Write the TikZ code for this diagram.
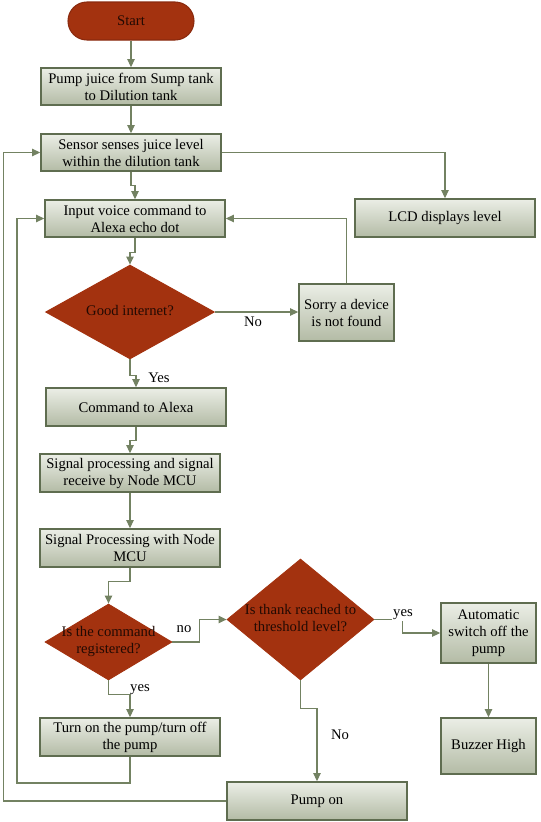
\documentclass[tikz,border=0pt]{standalone}
\usepackage{fontspec}
\setmainfont{Liberation Serif}
\usetikzlibrary{arrows.meta,shapes.geometric}
\definecolor{boxtop}{HTML}{EBEEE6}
\definecolor{boxbot}{HTML}{B3BBA5}
\definecolor{boxline}{HTML}{5F6D50}
\definecolor{conn}{HTML}{738262}
\definecolor{dred}{HTML}{A3320F}
\definecolor{dredline}{HTML}{8A2A0E}
\definecolor{dtext}{HTML}{220A03}
\tikzset{
  procbox/.style={draw=boxline, line width=1.2pt, top color=boxtop, bottom color=boxbot,
    inner sep=0pt, align=center, font=\fontsize{11}{12.75}\selectfont},
  decbox/.style={diamond, draw=dred, line width=0.6pt, fill=dred, inner sep=0pt,
    text=dtext, font=\fontsize{11}{12.75}\selectfont},
  termbox/.style={draw=dredline, line width=0.8pt, fill=dred, inner sep=0pt,
    text=dtext, font=\fontsize{11}{12.75}\selectfont},
  arr/.style={draw=conn, line width=0.9pt, -{Triangle[length=6pt,width=5.5pt]}},
  lbl/.style={font=\fontsize{11}{12.75}\selectfont, inner sep=1pt}
}
\newcommand{\dtxt}[1]{\makebox[0pt][c]{\begin{tabular}{@{}c@{}}#1\end{tabular}}}
\begin{document}
\begin{tikzpicture}[x=0.75pt,y=-0.75pt]
\useasboundingbox (0,0) rectangle (540,822);
\node[termbox, minimum width=94.5pt, minimum height=28.5pt, rounded corners=14.2pt] (start) at (131,21) {Start};
\node[procbox, minimum width=135pt, minimum height=27.75pt] (b1) at (131,86.5) {Pump juice from Sump tank\\to Dilution tank};
\node[procbox, minimum width=135pt, minimum height=27.75pt] (b2) at (131,152.5) {Sensor senses juice level\\within the dilution tank};
\node[procbox, minimum width=135pt, minimum height=27.75pt] (b3) at (135,218.5) {Input voice command to\\Alexa echo dot};
\node[procbox, minimum width=135pt, minimum height=28.5pt] (lcd) at (445,218) {LCD displays level};
\node[procbox, minimum width=71.25pt, minimum height=42.75pt] (sorry) at (346.5,312.5) {Sorry a device\\is not found};
\node[decbox, minimum width=126.75pt, minimum height=70.5pt] (d1) at (130,312) {\dtxt{Good internet?}};
\node[procbox, minimum width=135pt, minimum height=28.5pt] (cmd) at (136,407) {Command to Alexa};
\node[procbox, minimum width=135pt, minimum height=28.5pt] (sig1) at (130,473) {Signal processing and signal\\receive by Node MCU};
\node[procbox, minimum width=135pt, minimum height=28.5pt] (sig2) at (130,548) {Signal Processing with Node\\MCU};
\node[decbox, minimum width=95.25pt, minimum height=57pt] (d2) at (108.5,642) {\dtxt{Is the command\\registered?}};
\node[decbox, minimum width=110.25pt, minimum height=90.75pt] (d3) at (300.5,619.5) {\dtxt{Is thank reached to\\threshold level?}};
\node[procbox, minimum width=71.25pt, minimum height=45pt] (auto) at (488.5,633) {Automatic\\switch off the\\pump};
\node[procbox, minimum width=71.25pt, minimum height=42pt] (buzz) at (488.5,746) {Buzzer High};
\node[procbox, minimum width=135pt, minimum height=28.5pt] (turn) at (130,737) {Turn on the pump/turn off\\the pump};
\node[procbox, minimum width=135pt, minimum height=28.5pt] (pump) at (317,801) {Pump on};

\draw[arr] (start) -- (b1);
\draw[arr] (b1) -- (b2);
\draw[arr] (b2.south) -- ++(0,14) -| (b3.north);
\draw[arr] (b2.east) -| (lcd.north);
\draw[arr] (b3.south) -- ++(0,15) -| (d1.north);
\draw[arr] (d1.east) -- (d1.east -| sorry.west);
\draw[arr] (sorry.north) |- (b3.east);
\draw[arr] (d1.south) -- ++(0,16) -| (cmd.north);
\draw[arr] (cmd.south) -- ++(0,14) -| (sig1.north);
\draw[arr] (sig1) -- (sig2);
\draw[arr] (sig2.south) -- ++(0,14) -| (d2.north);
\draw[arr] (d2.east) -- ++(27,0) |- (d3.west);
\draw[arr] (d2.south) -- ++(0,14) -| (turn.north);
\draw[arr] (d3.east) -- ++(28,0) |- (auto.west);
\draw[arr] (d3.south) -- ++(0,28) -| (pump.north);
\draw[arr] (auto) -- (buzz);
\draw[arr] (turn.south) |- (17,783) |- (b3.west);
\draw[arr] (pump.west) -- ++(-223,0) |- (b2.west);

\node[lbl] (lno1) at (253,322) {No};
\node[lbl] (lyes1) at (159,378) {Yes};
\node[lbl] (lno2) at (184,629) {no};
\node[lbl] (lyes2) at (140,690) {yes};
\node[lbl, fill=white] (lyes3) at (403,615) {yes};
\node[lbl] (lno3) at (340,735) {No};
\end{tikzpicture}
\end{document}
